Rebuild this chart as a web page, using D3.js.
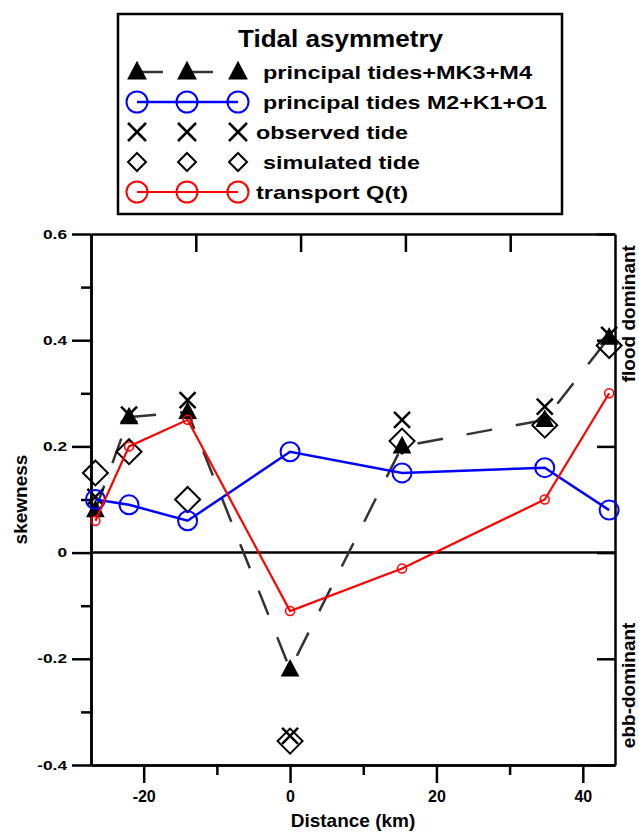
<!DOCTYPE html>
<html>
    <meta charset="utf-8">
    <head>
        <script src="https://cdnjs.cloudflare.com/ajax/libs/d3/7.8.5/d3.min.js"></script>
        <style>
            body { margin: 0; background: #fff; }
            text { font-family: "Liberation Sans", Arial, sans-serif; font-weight: bold; }
        </style>
    </head>
    <body>
        <script>
            // station distances along the estuary (km)
            const distance = [-26.6, -22, -14, 0, 15.3, 34.8, 43.6];
            // skewness per series
            const mk3m4 = [0.08, 0.255, 0.265, -0.22, 0.20, 0.25, 0.405];
            const m2k1o1 = [0.10, 0.09, 0.06, 0.19, 0.15, 0.16, 0.08];
            const observed = [0.105, 0.26, 0.287, -0.345, 0.25, 0.275, 0.41];
            const simulated = [0.15, 0.19, 0.10, -0.355, 0.21, 0.24, 0.39];
            const transport = [0.06, 0.20, 0.25, -0.11, -0.03, 0.10, 0.30];

            const yTicks = [-0.4, -0.2, 0, 0.2, 0.4, 0.6];
            const yMinor = [-0.3, -0.1, 0.1, 0.3, 0.5];
            const xTicks = [-20, 0, 20, 40];
            const xMinor = [-10, 10, 30];
            const topTicks = [1, 2, 3, 4];

            const legendLabels = ["principal tides+MK3+M4", "principal tides M2+K1+O1", "observed tide", "simulated tide", "transport Q(t)"];

            const svgWidth = 639, svgHeight = 832;
            const plotL = 91, plotR = 615, plotT = 234, plotB = 765;

            const svg = d3.select("body")
            .append("svg")
            .attr("width", svgWidth)
            .attr("height", svgHeight);

            const x = d3.scaleLinear().domain([-27.2, 44.4]).range([plotL, plotR]);
            const y = d3.scaleLinear().domain([-0.4, 0.6]).range([plotB, plotT]);
            const xTop = d3.scaleLinear().domain([0, 5]).range([plotL, plotR]);

            // marker shapes
            const triPath = s => `M0,${-s * 0.62}L${s * 0.55},${s * 0.42}L${-s * 0.55},${s * 0.42}Z`;
            const crossPath = s => `M${-s},${-s}L${s},${s}M${-s},${s}L${s},${-s}`;
            const diamondPath = s => `M0,${-s}L${s},0L0,${s}L${-s},0Z`;

            // axes
            const axisStyle = g => {
                g.selectAll(".domain, line").attr("stroke", "#000").attr("stroke-width", 2.5);
                g.selectAll("text").attr("font-size", "16px").attr("fill", "#000");
            };

            // y labels in the original look wide and short
            svg.append("g").attr("transform", `translate(${plotL},0)`)
            .call(d3.axisLeft(y).tickValues(yTicks).tickSize(19).tickSizeOuter(0).tickPadding(5)
                .tickFormat(d => d === 0 ? "0" : d.toFixed(1)))
            .call(axisStyle)
            .selectAll("text")
            .attr("font-size", "13px")
            .each(function() {
                d3.select(this).attr("textLength", this.getComputedTextLength() * 1.33)
                .attr("lengthAdjust", "spacingAndGlyphs");
            });
            svg.append("g").attr("transform", `translate(${plotL},0)`)
            .call(d3.axisLeft(y).tickValues(yMinor).tickSize(10).tickSizeOuter(0).tickFormat(""))
            .call(axisStyle);

            svg.append("g").attr("transform", `translate(0,${plotB})`)
            .call(d3.axisBottom(x).tickValues(xTicks).tickSize(18).tickSizeOuter(0).tickPadding(8)
                .tickFormat(d => String(d)))
            .call(axisStyle);
            svg.append("g").attr("transform", `translate(0,${plotB})`)
            .call(d3.axisBottom(x).tickValues(xMinor).tickSize(10).tickSizeOuter(0).tickFormat(""))
            .call(axisStyle);

            svg.append("g").attr("transform", `translate(0,${plotT})`)
            .call(d3.axisBottom(xTop).tickValues(topTicks).tickSize(18).tickSizeOuter(0).tickFormat(""))
            .call(axisStyle);

            svg.append("g").attr("transform", `translate(${plotR},0)`)
            .call(d3.axisLeft(y).tickValues(yTicks).tickSize(18).tickSizeOuter(0).tickFormat(""))
            .call(axisStyle);

            // zero line
            svg.append("line")
            .attr("x1", plotL).attr("x2", plotR)
            .attr("y1", y(0)).attr("y2", y(0))
            .attr("stroke", "#000").attr("stroke-width", 2.5);

            // axis titles
            svg.append("text")
            .attr("x", (plotL + plotR) / 2).attr("y", 827)
            .attr("text-anchor", "middle").attr("font-size", "19px")
            .text("Distance (km)");
            svg.append("text")
            .attr("transform", `translate(27,${y(0.1)}) rotate(-90)`)
            .attr("text-anchor", "middle").attr("font-size", "19px")
            .text("skewness");
            svg.append("text")
            .attr("transform", `translate(635,${y(0.45)}) rotate(-90)`)
            .attr("text-anchor", "middle").attr("font-size", "19px")
            .text("flood dominant");
            svg.append("text")
            .attr("transform", `translate(635,${y(-0.25)}) rotate(-90)`)
            .attr("text-anchor", "middle").attr("font-size", "19px")
            .text("ebb-dominant");

            const pts = vals => distance.map((d, i) => [x(d), y(vals[i])]);
            const line = d3.line();

            // principal tides + MK3 + M4 (dashed, triangles)
            svg.append("path")
            .attr("d", line(pts(mk3m4)))
            .attr("fill", "none").attr("stroke", "#333").attr("stroke-width", 2.5)
            .attr("stroke-dasharray", "26,24");
            svg.selectAll(".tri")
            .data(pts(mk3m4)).enter().append("path")
            .attr("class", "tri")
            .attr("transform", d => `translate(${d[0]},${d[1]})`)
            .attr("d", triPath(17)).attr("fill", "#000");

            // observed
            svg.selectAll(".obs")
            .data(pts(observed)).enter().append("path")
            .attr("class", "obs")
            .attr("transform", d => `translate(${d[0]},${d[1]})`)
            .attr("d", crossPath(8)).attr("stroke", "#000").attr("stroke-width", 2.5);

            // simulated
            svg.selectAll(".sim")
            .data(pts(simulated)).enter().append("path")
            .attr("class", "sim")
            .attr("transform", d => `translate(${d[0]},${d[1]})`)
            .attr("d", diamondPath(12.5)).attr("fill", "none").attr("stroke", "#000").attr("stroke-width", 2);

            // M2 + K1 + O1
            svg.append("path")
            .attr("d", line(pts(m2k1o1)))
            .attr("fill", "none").attr("stroke", "#0000ff").attr("stroke-width", 2.5);
            svg.selectAll(".m2")
            .data(pts(m2k1o1)).enter().append("circle")
            .attr("class", "m2")
            .attr("cx", d => d[0]).attr("cy", d => d[1]).attr("r", 9.5)
            .attr("fill", "none").attr("stroke", "#0000ff").attr("stroke-width", 2);

            // transport
            svg.append("path")
            .attr("d", line(pts(transport)))
            .attr("fill", "none").attr("stroke", "#ff0000").attr("stroke-width", 2.2);
            svg.selectAll(".tq")
            .data(pts(transport)).enter().append("circle")
            .attr("class", "tq")
            .attr("cx", d => d[0]).attr("cy", d => d[1]).attr("r", 4.5)
            .attr("fill", "none").attr("stroke", "#ff0000").attr("stroke-width", 1.5);

            // legend
            const lg = svg.append("g");
            lg.append("rect")
            .attr("x", 118).attr("y", 14).attr("width", 444).attr("height", 200)
            .attr("fill", "#fff").attr("stroke", "#000").attr("stroke-width", 2.5);
            lg.append("text")
            .attr("x", 238).attr("y", 47).attr("font-size", "23px")
            .attr("textLength", 205).attr("lengthAdjust", "spacingAndGlyphs")
            .text("Tidal asymmetry");

            const rowY = [72, 102, 132, 162, 192];
            const mx = [137, 187, 238];
            const textX = [263, 263, 256, 263, 256];
            const textLen = [269, 284, 152, 157, 152];

            lg.append("line").attr("x1", mx[0]).attr("x2", mx[2]).attr("y1", rowY[0]).attr("y2", rowY[0])
            .attr("stroke", "#333").attr("stroke-width", 2.5).attr("stroke-dasharray", "26,24");
            mx.forEach(m => lg.append("path").attr("transform", `translate(${m},${rowY[0]})`)
                .attr("d", triPath(18)).attr("fill", "#000"));

            lg.append("line").attr("x1", mx[0]).attr("x2", mx[2]).attr("y1", rowY[1]).attr("y2", rowY[1])
            .attr("stroke", "#0000ff").attr("stroke-width", 2.5);
            mx.forEach(m => lg.append("circle").attr("cx", m).attr("cy", rowY[1]).attr("r", 10.5)
                .attr("fill", "none").attr("stroke", "#0000ff").attr("stroke-width", 2));

            mx.forEach(m => lg.append("path").attr("transform", `translate(${m},${rowY[2]})`)
                .attr("d", crossPath(9)).attr("stroke", "#000").attr("stroke-width", 2.5));

            mx.forEach(m => lg.append("path").attr("transform", `translate(${m},${rowY[3]})`)
                .attr("d", diamondPath(9)).attr("fill", "none").attr("stroke", "#000").attr("stroke-width", 2));

            lg.append("line").attr("x1", mx[0]).attr("x2", mx[2]).attr("y1", rowY[4]).attr("y2", rowY[4])
            .attr("stroke", "#ff0000").attr("stroke-width", 2.2);
            mx.forEach(m => lg.append("circle").attr("cx", m).attr("cy", rowY[4]).attr("r", 10.5)
                .attr("fill", "none").attr("stroke", "#ff0000").attr("stroke-width", 2));

            lg.selectAll(".lt")
            .data(legendLabels).enter().append("text")
            .attr("class", "lt")
            .attr("x", (d, i) => textX[i]).attr("y", (d, i) => rowY[i] + 7)
            .attr("font-size", "19px")
            .attr("textLength", (d, i) => textLen[i]).attr("lengthAdjust", "spacingAndGlyphs")
            .text(d => d);
        </script>
    </body>
</html>
